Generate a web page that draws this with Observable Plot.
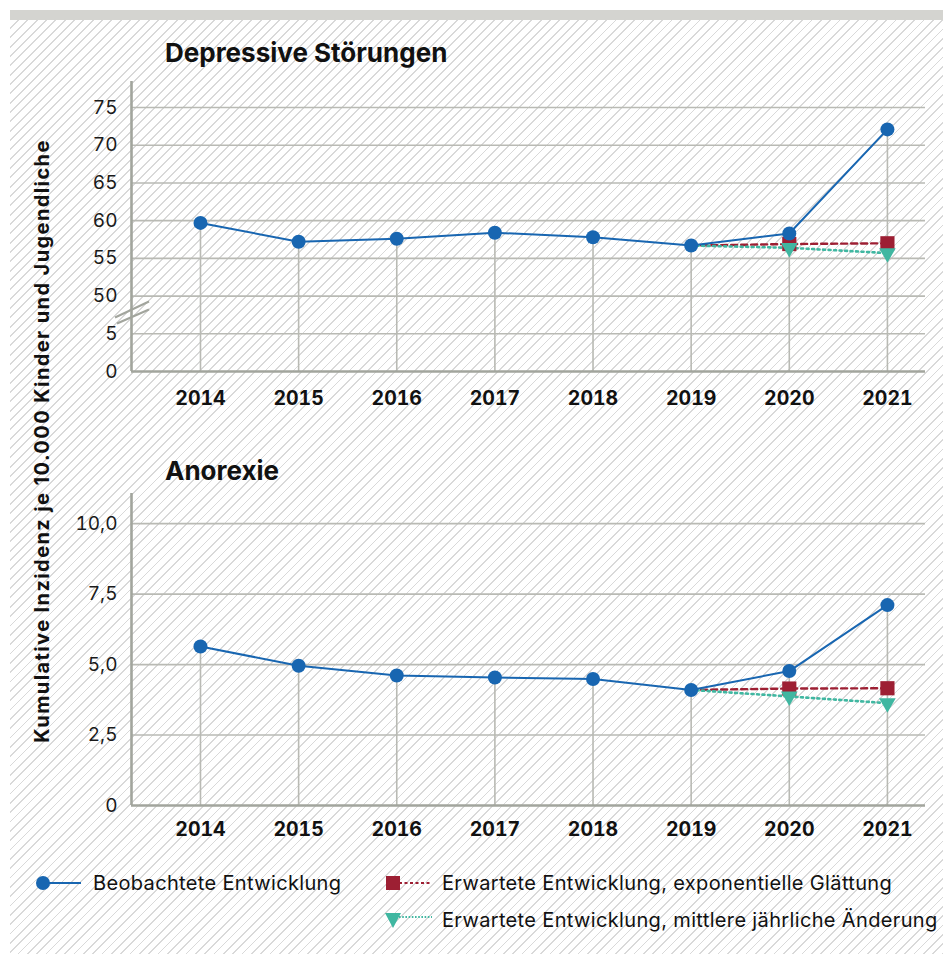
<!DOCTYPE html>
<html><head><meta charset="utf-8">
<script src="https://cdn.jsdelivr.net/npm/d3@7"></script>
<script src="https://cdn.jsdelivr.net/npm/@observablehq/plot@0.6"></script>
<style>
html,body{margin:0;padding:0;background:#fff;}
#page{position:relative;width:943px;height:954px;overflow:hidden;font-family:Inter,sans-serif;color:#111;}
#hatch{position:absolute;left:10px;top:20px;right:0;bottom:0;
 background-image:repeating-linear-gradient(135deg,#ffffff 0px,#ffffff 5.4px,#d9d9d9 5.4px,#d9d9d9 6.6px);}
#bar{position:absolute;left:10px;top:10px;width:933px;height:10px;background:#d4d4d0;}
.title{position:absolute;left:165px;font-weight:700;font-size:26px;line-height:1;}
#ytitle{position:absolute;left:42px;top:441px;transform:translate(-50%,-50%) rotate(-90deg);white-space:nowrap;font-weight:700;font-size:20px;letter-spacing:1.4px;}
.chart{position:absolute;left:0;}
.leg{position:absolute;display:flex;align-items:center;font-size:20px;letter-spacing:0.35px;white-space:nowrap;}
.leg svg{display:block;margin-right:10px;}
</style></head>
<body><div id="page">
<div id="hatch"></div><div id="bar"></div>
<div class="title" style="top:40px">Depressive Störungen</div>
<div class="title" style="top:458px">Anorexie</div>
<div id="ytitle">Kumulative Inzidenz je 10.000 Kinder und Jugendliche</div>
<div class="chart" id="c1" style="top:70px"></div>
<div class="chart" id="c2" style="top:485px"></div>
<div class="leg" id="l1" style="left:35px;top:871px"></div>
<div class="leg" id="l2" style="left:384px;top:871px"></div>
<div class="leg" id="l3" style="left:384px;top:908px"></div>
</div>
<script>
// ---- data ----
const years = [2014, 2015, 2016, 2017, 2018, 2019, 2020, 2021];
const expYears = [2019, 2020, 2021];
const depObserved = [59.7, 57.2, 57.6, 58.4, 57.8, 56.7, 58.3, 72.1];
const depExpSmooth = [56.7, 56.9, 57.0];
const depMeanChange = [56.7, 56.4, 55.7];
const anoObserved = [5.64, 4.96, 4.61, 4.54, 4.49, 4.10, 4.77, 7.11];
const anoExpSmooth = [4.10, 4.15, 4.16];
const anoMeanChange = [4.10, 3.87, 3.63];
const depTicks = [0, 5, 50, 55, 60, 65, 70, 75];
const depTickLabels = ["0", "5", "50", "55", "60", "65", "70", "75"];
const anoTicks = [0, 2.5, 5, 7.5, 10];
const anoTickLabels = ["0", "2,5", "5,0", "7,5", "10,0"];
const seriesNames = ["Beobachtete Entwicklung", "Erwartete Entwicklung, exponentielle Glättung", "Erwartete Entwicklung, mittlere jährliche Änderung"];

// ---- style ----
const BLUE = "#1866b1", RED = "#9d1f33", TEAL = "#40b7a1", GRID = "#b9bab4", AXIS = "#a2a59d";
const xDomain = [2013.297, 2021.388];

// broken axis mapping for the depression panel
const brk = v => v <= 5 ? v / 5 : 2 + (v - 50) / 5;

function panel({observed, smooth, mean, yf, yDomain, ticks, tickLabels, mt, mb, h, xPad, withBreak}) {
  const obs = years.map((yr, i) => ({x: yr, v: yf(observed[i])}));
  const es = expYears.map((yr, i) => ({x: yr, v: yf(smooth[i])}));
  const mc = expYears.map((yr, i) => ({x: yr, v: yf(mean[i])}));
  const tickPos = ticks.map(yf);
  const marks = [
    Plot.ruleY(tickPos.slice(1), {stroke: GRID, strokeWidth: 1.6}),
    Plot.ruleX(obs, {x: "x", y1: 0, y2: "v", stroke: GRID, strokeWidth: 1.6}),
    Plot.ruleX([xDomain[0]], {stroke: AXIS, strokeWidth: 2.6}),
    Plot.ruleY([0], {stroke: AXIS, strokeWidth: 2.6}),
    Plot.axisY({ticks: tickPos, tickFormat: (d, i) => tickLabels[i], tickSize: 0, tickPadding: 14, fontSize: 19, fill: "#1a1a1a", label: null}),
    Plot.axisX({ticks: years, tickFormat: d => String(d), tickSize: 0, tickPadding: xPad, fontSize: 19.5, fontWeight: 700, fill: "#111", label: null}),
    Plot.line(es, {x: "x", y: "v", stroke: RED, strokeWidth: 2.4, strokeDasharray: "6,4"}),
    Plot.line(mc, {x: "x", y: "v", stroke: TEAL, strokeWidth: 2.6, strokeDasharray: "2,3.5"}),
    Plot.dot(es.slice(1), {x: "x", y: "v", symbol: "square", r: 8, fill: RED}),
    Plot.dot(mc.slice(1), {x: "x", y: "v", symbol: "triangle", r: 6.2, fill: TEAL, rotate: 180}),
    Plot.line(obs, {x: "x", y: "v", stroke: BLUE, strokeWidth: 2}),
    Plot.dot(obs, {x: "x", y: "v", r: 7, fill: BLUE})
  ];
  if (withBreak) {
    marks.push((index, scales) => {
      const g = d3.create("svg:g").attr("stroke", AXIS).attr("stroke-width", 2.2).attr("fill", "none");
      const x0 = scales.x(xDomain[0]), y0 = scales.y(1.5);
      g.append("line").attr("x1", x0 - 16).attr("y1", y0 + 3).attr("x2", x0 + 18).attr("y2", y0 - 13);
      g.append("line").attr("x1", x0 - 14).attr("y1", y0 + 9).attr("x2", x0 + 18).attr("y2", y0 - 5);
      return g.node();
    });
  }
  return Plot.plot({
    width: 943, height: h,
    marginLeft: 131, marginRight: 18, marginTop: mt, marginBottom: mb,
    x: {type: "linear", domain: xDomain, axis: null},
    y: {domain: yDomain, axis: null},
    style: {fontFamily: "Inter, sans-serif", fontSize: "19px", background: "transparent", overflow: "visible"},
    marks
  });
}

document.getElementById("c1").append(panel({
  observed: depObserved, smooth: depExpSmooth, mean: depMeanChange, yf: brk,
  yDomain: [0, 7.69], ticks: depTicks, tickLabels: depTickLabels, mt: 11, mb: 49, h: 350, xPad: 20, withBreak: true
}));
document.getElementById("c2").append(panel({
  observed: anoObserved, smooth: anoExpSmooth, mean: anoMeanChange, yf: v => v,
  yDomain: [0, 11.07], ticks: anoTicks, tickLabels: anoTickLabels, mt: 8, mb: 50, h: 370, xPad: 17, withBreak: false
}));

// ---- legend ----
function legendIcon(kind) {
  const s = d3.create("svg").attr("width", 48).attr("height", 20);
  if (kind === 0) {
    s.append("line").attr("x1", 8).attr("x2", 46).attr("y1", 10).attr("y2", 10).attr("stroke", BLUE).attr("stroke-width", 2);
    s.append("circle").attr("cx", 8).attr("cy", 10).attr("r", 7).attr("fill", BLUE);
  } else if (kind === 1) {
    s.append("line").attr("x1", 15).attr("x2", 48).attr("y1", 10).attr("y2", 10).attr("stroke", RED).attr("stroke-width", 2).attr("stroke-dasharray", "3,2.5");
    s.append("rect").attr("x", 2).attr("y", 3).attr("width", 14).attr("height", 14).attr("fill", RED);
  } else {
    s.append("line").attr("x1", 15).attr("x2", 48).attr("y1", 7).attr("y2", 7).attr("stroke", TEAL).attr("stroke-width", 2).attr("stroke-dasharray", "1.6,1.6");
    s.append("path").attr("d", "M1,3 L17,3 L9,18 Z").attr("fill", TEAL);
  }
  return s.node();
}
["l1", "l2", "l3"].forEach((id, i) => {
  const el = document.getElementById(id);
  el.append(legendIcon(i));
  const t = document.createElement("span");
  t.textContent = seriesNames[i];
  el.append(t);
});
</script>
</body></html>
